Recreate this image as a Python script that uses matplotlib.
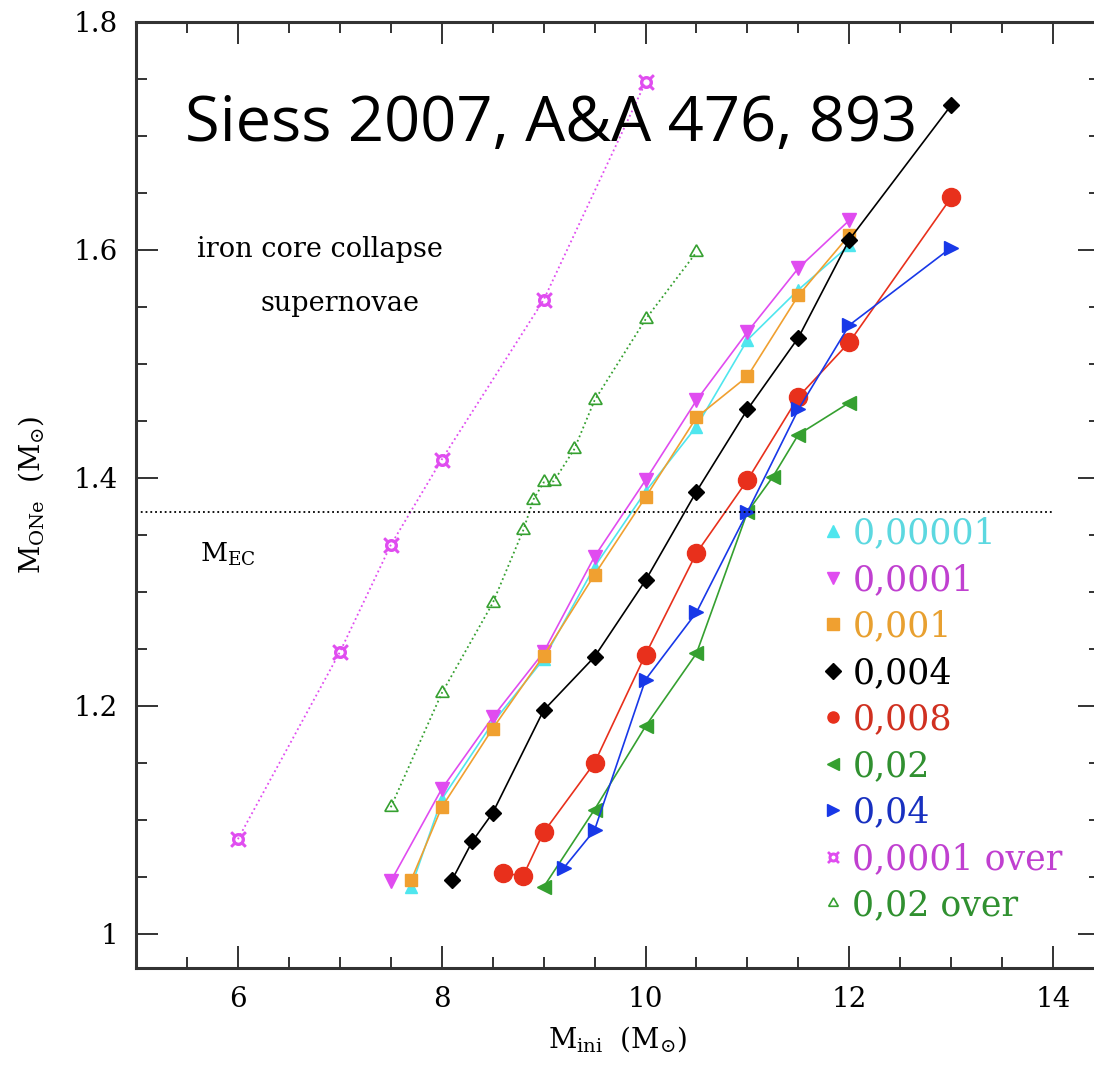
import matplotlib
matplotlib.use("Agg")
import matplotlib.pyplot as plt
from matplotlib.lines import Line2D
from matplotlib.ticker import MultipleLocator

plt.rcParams["font.family"] = ["DejaVu Serif"]
plt.rcParams["mathtext.fontset"] = "dejavuserif"

# initial mass (Msun) and ONe core mass (Msun) per metallicity
x_z00001 = [7.7, 8.0, 8.5, 9.0, 9.5, 10.0, 10.5, 11.0, 11.5, 12.0]
y_z00001 = [1.041, 1.118, 1.185, 1.241, 1.322, 1.388, 1.445, 1.521, 1.565, 1.604]

x_z0001 = [7.5, 8.0, 8.5, 9.0, 9.5, 10.0, 10.5, 11.0, 11.5, 12.0]
y_z0001 = [1.046, 1.127, 1.19, 1.247, 1.331, 1.398, 1.468, 1.528, 1.584, 1.626]

x_z001 = [7.7, 8.0, 8.5, 9.0, 9.5, 10.0, 10.5, 11.0, 11.5, 12.0]
y_z001 = [1.047, 1.111, 1.18, 1.244, 1.315, 1.383, 1.453, 1.489, 1.56, 1.613]

x_z004 = [8.1, 8.3, 8.5, 9.0, 9.5, 10.0, 10.5, 11.0, 11.5, 12.0, 13.0]
y_z004 = [1.047, 1.081, 1.106, 1.196, 1.243, 1.31, 1.388, 1.46, 1.523, 1.609, 1.727]

x_z008 = [8.6, 8.8, 9.0, 9.5, 10.0, 10.5, 11.0, 11.5, 12.0, 13.0]
y_z008 = [1.053, 1.051, 1.089, 1.15, 1.245, 1.334, 1.398, 1.471, 1.519, 1.646]

x_z02 = [9.0, 9.5, 10.0, 10.5, 11.0, 11.25, 11.5, 12.0]
y_z02 = [1.041, 1.109, 1.182, 1.246, 1.37, 1.401, 1.438, 1.466]

x_z04 = [9.2, 9.5, 10.0, 10.5, 11.0, 11.5, 12.0, 13.0]
y_z04 = [1.058, 1.091, 1.223, 1.282, 1.37, 1.46, 1.534, 1.602]

x_z0001_over = [6.0, 7.0, 7.5, 8.0, 9.0, 10.0]
y_z0001_over = [1.083, 1.247, 1.341, 1.416, 1.556, 1.747]

x_z02_over = [7.5, 8.0, 8.5, 8.8, 8.9, 9.0, 9.1, 9.3, 9.5, 10.0, 10.5]
y_z02_over = [1.111, 1.211, 1.29, 1.354, 1.381, 1.396, 1.397, 1.425, 1.468, 1.539, 1.598]

m_ec = 1.37

fig = plt.figure(figsize=(10.94, 10.65), dpi=100)
ax = fig.add_axes([0.1243, 0.0911, 0.8812, 0.8883])

cyan = "#4fe6ee"
magenta = "#e04cf0"
orange = "#f0a030"
red = "#e8301c"
green = "#35a030"
blue = "#1838e8"

ax.plot(x_z0001_over, y_z0001_over, ls=":", lw=1.3, color=magenta,
        marker="$\u00a4$", ms=11, mew=0.8)
ax.plot(x_z02_over, y_z02_over, ls=":", lw=1.3, color=green,
        marker=(3, 1, 0), ms=11, mfc="none", mew=1.2)
ax.plot(x_z00001, y_z00001, "-^", lw=1.2, color=cyan, ms=9)
ax.plot(x_z0001, y_z0001, "-v", lw=1.2, color=magenta, ms=10)
ax.plot(x_z001, y_z001, "-s", lw=1.2, color=orange, ms=9)
ax.plot(x_z004, y_z004, "-D", lw=1.2, color="black", ms=8)
ax.plot(x_z008, y_z008, "-o", lw=1.2, color=red, ms=13)
ax.plot(x_z02, y_z02, "-<", lw=1.2, color=green, ms=10)
ax.plot(x_z04, y_z04, "->", lw=1.2, color=blue, ms=10)

ax.plot([5, 14], [m_ec, m_ec], ls=":", lw=1.3, color="black")

ax.set_xlim(5, 14.46)
ax.set_ylim(0.97, 1.8)
ax.xaxis.set_minor_locator(MultipleLocator(0.5))
ax.yaxis.set_minor_locator(MultipleLocator(0.05))
ax.set_xticks([6, 8, 10, 12, 14])
ax.set_xticklabels(["6", "8", "10", "12", "14"])
ax.set_yticks([1.0, 1.2, 1.4, 1.6, 1.8])
ax.set_yticklabels(["1", "1.2", "1.4", "1.6", "1.8"])
ax.tick_params(which="both", direction="in", top=True, right=True,
               width=1.4, color="#333333", labelsize=20)
ax.tick_params(which="major", length=16, pad=13)
ax.tick_params(which="minor", length=8)
for s in ax.spines.values():
    s.set_linewidth(2.2)
    s.set_color("#333333")

ax.set_xlabel(r"$\mathrm{M_{ini}}\ \ (\mathrm{M_{\odot}})$", fontsize=20, labelpad=8)
ax.set_ylabel(r"$\mathrm{M_{ONe}}\ \ (\mathrm{M_{\odot}})$", fontsize=20, labelpad=20)

ax.text(5.6, 1.6, "iron core collapse", fontsize=19.5, ha="left", va="center")
ax.text(6.22, 1.553, "supernovae", fontsize=19.5, ha="left", va="center")
ax.text(5.63, 1.333, r"$\mathrm{M_{EC}}$", fontsize=19, ha="left", va="center")

ax.text(5.48, 1.71, "Siess 2007, A&A 476, 893", fontsize=45.5,
        family=["Open Sans", "DejaVu Sans"], ha="left", va="center")

labels = ["0,00001", "0,0001", "0,001", "0,004", "0,008", "0,02", "0,04",
          "0,0001 over", "0,02 over"]
colors = [cyan, magenta, orange, "black", red, green, blue, magenta, green]
text_colors = ["#5cd8e0", "#c040d0", "#e8a030", "black", "#d03020",
               "#309030", "#1830c0", "#c040d0", "#309030"]
markers = ["^", "v", "s", "D", "o", "<", ">", "$\u00a4$", (3, 1, 0)]
handles = []
for c, m in zip(colors, markers):
    if m == (3, 1, 0):
        h = Line2D([], [], ls="none", marker=m, color=c, ms=8, mfc="none", mew=1.2)
    else:
        h = Line2D([], [], ls="none", marker=m, color=c, ms=8)
    handles.append(h)
leg = ax.legend(handles, labels, loc="upper left", bbox_to_anchor=(0.7, 0.492),
                frameon=False, fontsize=25, labelspacing=0.36, handlelength=0.5,
                handletextpad=0.3, borderaxespad=0)
for t, c in zip(leg.get_texts(), text_colors):
    t.set_color(c)

fig.savefig("out.png", dpi=100)
